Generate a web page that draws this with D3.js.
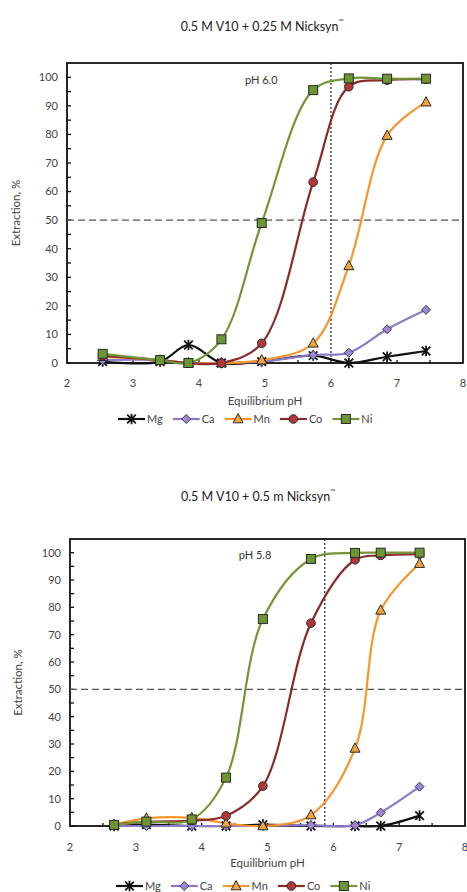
<!DOCTYPE html>
<html><head><meta charset="utf-8">
<script src="https://cdn.jsdelivr.net/npm/d3@7"></script>
<style>
html,body{margin:0;padding:0;background:#fff;}
svg{display:block;}
text{font-family:Lato,"Open Sans",sans-serif;}
</style></head>
<body>
<script>
// ---- data ----
const seriesNames = ["Mg","Ca","Mn","Co","Ni"];
const xTickLabels = [2,3,4,5,6,7,8];
const yTickLabels = [0,10,20,30,40,50,60,70,80,90,100];

const phTop = [2.54, 3.41, 3.84, 4.34, 4.95, 5.73, 6.27, 6.85, 7.44];
const mgTop = [0.5, 0.5, 6.3, 0, 0.5, 2.6, 0, 2.2, 4.2];
const caTop = [1, 1, 0, 0, 0.5, 2.8, 3.6, 11.8, 18.6];
const mnTop = [2.2, 1, 0, 0, 1, 6.9, 34, 79.6, 91.3];
const coTop = [2.5, 1, 0, 0, 6.9, 63.3, 96.7, 99, 99.3];
const niTop = [3.2, 1, 0, 8.3, 49, 95.5, 99.6, 99.5, 99.5];

const phBot = [2.67, 3.16, 3.85, 4.37, 4.93, 5.66, 6.33, 6.72, 7.31];
const mgBot = [0, 0.5, 0, 0, 0.5, 0, 0, 0, 3.8];
const caBot = [0, 0, 0, 0, 0, 0.3, 0.3, 4.9, 14.4];
const mnBot = [0.5, 2.8, 3, 1, 0, 4, 28.4, 78.9, 96];
const coBot = [0.5, 1.5, 2, 3.7, 14.6, 74.2, 97.4, 99, 99.5];
const niBot = [0.4, 1.6, 2.4, 17.7, 75.7, 97.7, 99.9, 100, 100];

const titleTop = "0.5 M V10 + 0.25 M Nicksyn";
const titleBot = "0.5 M V10 + 0.5 m Nicksyn";
const refTop = {ph: 6.0, label: "pH 6.0"};
const refBot = {ph: 5.87, label: "pH 5.8"};

// ---- styles ----
const style = {
  Mg: {line:"#111111", fill:"#111111", shape:"star"},
  Ca: {line:"#8f79c6", fill:"#9d88cf", shape:"diamond"},
  Mn: {line:"#f7962d", fill:"#f5a33c", shape:"triangle"},
  Co: {line:"#8a2b2b", fill:"#b43838", shape:"circle"},
  Ni: {line:"#729638", fill:"#6d9633", shape:"square"}
};

const svg = d3.select("body").append("svg").attr("width",467).attr("height",892);
svg.append("rect").attr("width",467).attr("height",892).attr("fill","#fff");

function drawMarker(g, shape, x, y, st){
  if(shape==="square"){
    g.append("rect").attr("x",x-4.5).attr("y",y-4.5).attr("width",9).attr("height",9)
      .attr("fill",st.fill).attr("stroke","#2a2a2a").attr("stroke-width",1);
  } else if(shape==="circle"){
    g.append("circle").attr("cx",x).attr("cy",y).attr("r",4.3)
      .attr("fill",st.fill).attr("stroke","#2a2a2a").attr("stroke-width",1);
  } else if(shape==="triangle"){
    g.append("path").attr("d",`M${x},${y-5.5}L${x+5},${y+3.8}L${x-5},${y+3.8}Z`)
      .attr("fill",st.fill).attr("stroke","#2a2a2a").attr("stroke-width",1);
  } else if(shape==="diamond"){
    g.append("path").attr("d",`M${x},${y-4.5}L${x+4.5},${y}L${x},${y+4.5}L${x-4.5},${y}Z`)
      .attr("fill",st.fill).attr("stroke","#3a3a5a").attr("stroke-width",1);
  } else if(shape==="star"){
    const r=4.3;
    g.append("path").attr("d",
      `M${x-r},${y-r}L${x+r},${y+r}M${x-r},${y+r}L${x+r},${y-r}M${x},${y-r-1}L${x},${y+r+1}`)
      .attr("stroke","#111").attr("stroke-width",1.8).attr("fill","none");
  }
}

function drawChart(cfg){
  const {ph, series, left, right, top, bottom, title, titleX, titleY, ref,
         yTitleX, xLabelY, xTitleY, legendY, legendX} = cfg;
  const x = d3.scaleLinear().domain([2,8]).range([left,right]);
  const y = d3.scaleLinear().domain([0,105]).range([bottom,top]);
  const g = svg.append("g");

  // title
  const t = g.append("text").attr("x",titleX).attr("y",titleY).attr("text-anchor","middle")
    .attr("font-size",12.5).attr("fill","#222");
  t.append("tspan").text(title);
  t.append("tspan").attr("font-size",6.5).attr("dy",-7).text("™");

  // frame
  g.append("rect").attr("x",left).attr("y",top).attr("width",right-left).attr("height",bottom-top)
    .attr("fill","none").attr("stroke","#111").attr("stroke-width",1.8);

  // y ticks (inside)
  const yt = g.append("g");
  d3.range(0,101,5).forEach(v=>{
    yt.append("line").attr("x1",left).attr("x2",left+4).attr("y1",y(v)).attr("y2",y(v))
      .attr("stroke","#111").attr("stroke-width",1.3);
  });
  yTickLabels.forEach(v=>{
    yt.append("text").attr("x",left-9).attr("y",y(v)).attr("dy","0.35em")
      .attr("text-anchor","end").attr("font-size",11).attr("fill","#444").text(v);
  });
  // x ticks
  d3.range(2.5,8,0.5).forEach(v=>{
    g.append("line").attr("x1",x(v)).attr("x2",x(v)).attr("y1",bottom).attr("y2",bottom-3)
      .attr("stroke","#111").attr("stroke-width",1.3);
  });
  xTickLabels.forEach(v=>{
    g.append("text").attr("x",x(v)).attr("y",xLabelY).attr("text-anchor","middle")
      .attr("font-size",11).attr("fill","#444").text(v);
  });
  g.append("text").attr("x",(left+right)/2).attr("y",xTitleY).attr("text-anchor","middle")
    .attr("font-size",11.5).attr("fill","#444").text("Equilibrium pH");
  g.append("text").attr("transform",`translate(${yTitleX},${(top+bottom)/2}) rotate(-90)`)
    .attr("text-anchor","middle").attr("font-size",11.5).attr("fill","#444").text("Extraction, %");

  // reference lines
  g.append("line").attr("x1",left).attr("x2",right).attr("y1",y(50)).attr("y2",y(50))
    .attr("stroke","#555").attr("stroke-width",1.3).attr("stroke-dasharray","7,4");
  g.append("line").attr("x1",x(ref.ph)).attr("x2",x(ref.ph)).attr("y1",top).attr("y2",bottom)
    .attr("stroke","#333").attr("stroke-width",1.3).attr("stroke-dasharray","2,2");
  g.append("text").attr("x",x(ref.ph)-86).attr("y",y(99)).attr("dy","0.35em").attr("font-size",11)
    .attr("fill","#333").text(ref.label);

  // series lines
  const line = d3.line().x((d,i)=>x(ph[i])).y(d=>y(d)).curve(d3.curveCatmullRom.alpha(0.5));
  seriesNames.forEach(n=>{
    g.append("path").attr("d",line(series[n])).attr("fill","none")
      .attr("stroke",style[n].line).attr("stroke-width",2.2);
  });
  // markers
  seriesNames.forEach(n=>{
    series[n].forEach((v,i)=>drawMarker(g, style[n].shape, x(ph[i]), y(v), style[n]));
  });

  // legend
  let lx = legendX;
  seriesNames.forEach(n=>{
    const st = style[n];
    g.append("line").attr("x1",lx).attr("x2",lx+27).attr("y1",legendY).attr("y2",legendY)
      .attr("stroke",st.line).attr("stroke-width",2.2);
    drawMarker(g, st.shape, lx+13.5, legendY, st);
    const tx = g.append("text").attr("x",lx+29).attr("y",legendY).attr("dy","0.35em")
      .attr("font-size",11).attr("fill","#444").text(n);
    lx += 29 + tx.node().getComputedTextLength() + 10;
  });
}

drawChart({
  ph: phTop, series:{Mg:mgTop,Ca:caTop,Mn:mnTop,Co:coTop,Ni:niTop},
  left:67, right:463, top:63, bottom:363,
  title:titleTop, titleX:262, titleY:31, ref:refTop,
  yTitleX:20, xLabelY:387, xTitleY:405, legendY:419, legendX:118
});
drawChart({
  ph: phBot, series:{Mg:mgBot,Ca:caBot,Mn:mnBot,Co:coBot,Ni:niBot},
  left:70, right:465, top:539, bottom:826,
  title:titleBot, titleX:258, titleY:501, ref:refBot,
  yTitleX:22, xLabelY:851, xTitleY:867, legendY:886, legendX:116
});
</script>
</body></html>
